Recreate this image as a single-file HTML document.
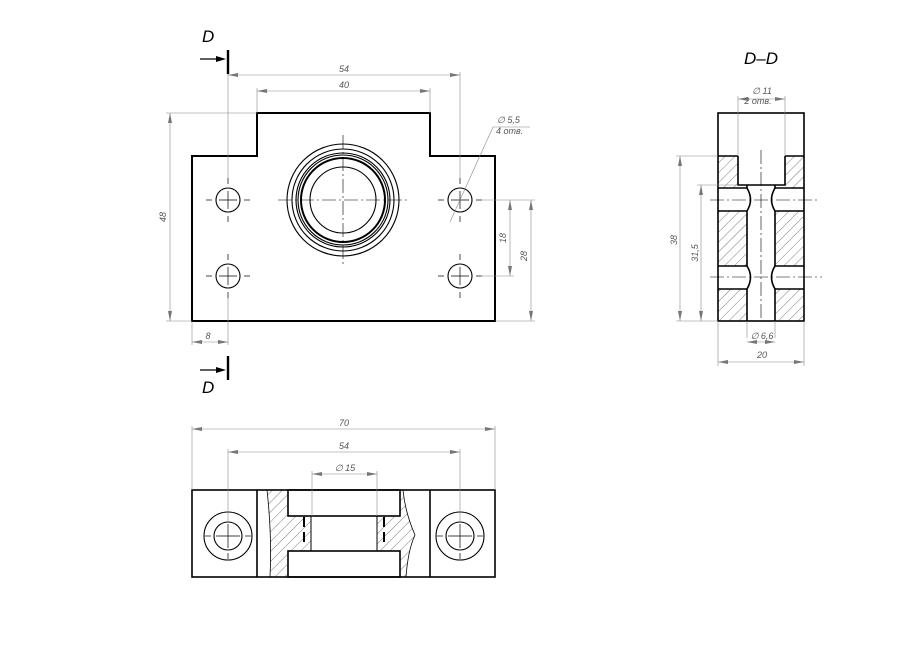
<!DOCTYPE html>
<html><head><meta charset="utf-8"><style>html,body{margin:0;padding:0;background:#fff}svg{display:block}</style></head>
<body>
<svg width="919" height="650" viewBox="0 0 919 650" xmlns="http://www.w3.org/2000/svg" font-family="Liberation Sans, sans-serif" font-style="italic">
<defs>
<pattern id="h" width="7" height="7" patternUnits="userSpaceOnUse" patternTransform="rotate(45)">
<line x1="0" y1="0" x2="0" y2="7" stroke="#444" stroke-width="0.7"/>
</pattern>
<marker id="a" viewBox="0 0 10 6" refX="10" refY="3" markerWidth="10" markerHeight="6" orient="auto-start-reverse" markerUnits="userSpaceOnUse">
<path d="M0,1 L10,3 L0,5z" fill="#777"/></marker>
</defs>

<!-- ========== FRONT VIEW ========== -->
<g fill="none" stroke="#000" stroke-width="2">
<path d="M192,156 H257 V113 H430 V156 H495 V321 H192 Z"/>
</g>
<g fill="none" stroke="#000" stroke-width="1.1">
<circle cx="343" cy="200" r="56"/>
<circle cx="343" cy="200" r="51"/>
<circle cx="343" cy="200" r="47"/>
<circle cx="343" cy="200" r="45"/>
<circle cx="343" cy="200" r="42" stroke-width="2"/>
<circle cx="343" cy="200" r="33"/>
<circle cx="228" cy="200" r="12"/>
<circle cx="228" cy="276" r="12"/>
<circle cx="460" cy="200" r="12"/>
<circle cx="460" cy="276" r="12"/>
</g>
<g stroke="#000" stroke-width="0.6" stroke-dasharray="14,3,2,3" fill="none">
<line x1="278" y1="200" x2="408" y2="200"/>
<line x1="343" y1="135" x2="343" y2="265"/>
</g>
<g stroke="#000" stroke-width="0.7">
<line x1="206" y1="200" x2="212" y2="200"/><line x1="219" y1="200" x2="237" y2="200"/><line x1="244" y1="200" x2="250" y2="200"/>
<line x1="206" y1="276" x2="212" y2="276"/><line x1="219" y1="276" x2="237" y2="276"/><line x1="244" y1="276" x2="250" y2="276"/>
<line x1="438" y1="200" x2="444" y2="200"/><line x1="451" y1="200" x2="469" y2="200"/><line x1="476" y1="200" x2="482" y2="200"/>
<line x1="438" y1="276" x2="444" y2="276"/><line x1="451" y1="276" x2="469" y2="276"/><line x1="476" y1="276" x2="482" y2="276"/>
<line x1="228" y1="178" x2="228" y2="184"/><line x1="228" y1="191" x2="228" y2="209"/><line x1="228" y1="216" x2="228" y2="222"/>
<line x1="228" y1="254" x2="228" y2="260"/><line x1="228" y1="267" x2="228" y2="285"/><line x1="228" y1="292" x2="228" y2="298"/>
<line x1="460" y1="178" x2="460" y2="184"/><line x1="460" y1="191" x2="460" y2="209"/><line x1="460" y1="216" x2="460" y2="222"/>
<line x1="460" y1="254" x2="460" y2="260"/><line x1="460" y1="267" x2="460" y2="285"/><line x1="460" y1="292" x2="460" y2="298"/>
</g>
<!-- dims front -->
<g stroke="#888" stroke-width="0.6" fill="none">
<line x1="228" y1="72" x2="228" y2="178"/><line x1="460" y1="72" x2="460" y2="178"/>
<line x1="228" y1="298" x2="228" y2="345"/>
<line x1="192" y1="321" x2="192" y2="345"/>
<line x1="257" y1="88" x2="257" y2="113"/><line x1="430" y1="88" x2="430" y2="113"/>
<line x1="166" y1="113" x2="257" y2="113"/><line x1="166" y1="321" x2="192" y2="321"/>
<line x1="482" y1="200" x2="535" y2="200"/><line x1="482" y1="276" x2="514" y2="276"/><line x1="495" y1="321" x2="535" y2="321"/>
<line x1="228" y1="75" x2="460" y2="75" marker-start="url(#a)" marker-end="url(#a)"/>
<line x1="257" y1="91" x2="430" y2="91" marker-start="url(#a)" marker-end="url(#a)"/>
<line x1="170" y1="113" x2="170" y2="321" marker-start="url(#a)" marker-end="url(#a)"/>
<line x1="510" y1="200" x2="510" y2="276" marker-start="url(#a)" marker-end="url(#a)"/>
<line x1="531" y1="200" x2="531" y2="321" marker-start="url(#a)" marker-end="url(#a)"/>
<line x1="192" y1="342" x2="228" y2="342" marker-start="url(#a)" marker-end="url(#a)"/>
<polyline points="450,222 493,127 530,127"/>
</g>
<g font-size="9" fill="#555">
<text x="344" y="72" text-anchor="middle">54</text>
<text x="344" y="88" text-anchor="middle">40</text>
<text x="208" y="339" text-anchor="middle">8</text>
<text transform="translate(166,217) rotate(-90)" text-anchor="middle">48</text>
<text transform="translate(506,238) rotate(-90)" text-anchor="middle">18</text>
<text transform="translate(527,256) rotate(-90)" text-anchor="middle">28</text>
<text x="497" y="123">∅ 5,5</text>
<text x="496" y="134">4 отв.</text>
</g>
<!-- section markers -->
<g stroke="#000" fill="none">
<line x1="228" y1="50" x2="228" y2="74" stroke-width="2.4"/>
<line x1="228" y1="356" x2="228" y2="380" stroke-width="2.4"/>
<line x1="200" y1="59" x2="222" y2="59" stroke-width="1.2"/>
<line x1="200" y1="370" x2="222" y2="370" stroke-width="1.2"/>
</g>
<path d="M226,59 L216,56 L216,62z M226,370 L216,367 L216,373z" fill="#000"/>
<g font-size="17" fill="#000">
<text x="202" y="42">D</text>
<text x="202" y="393">D</text>
<text x="744" y="64">D–D</text>
</g>

<!-- ========== SECTION D-D ========== -->
<g fill="url(#h)" stroke="none">
<rect x="718" y="156" width="20" height="32"/>
<rect x="785" y="156" width="19" height="32"/>
<rect x="718" y="211" width="29" height="55"/>
<rect x="775" y="211" width="29" height="55"/>
<rect x="718" y="289" width="29" height="32"/>
<rect x="775" y="289" width="29" height="32"/>
</g>
<g fill="none" stroke="#000" stroke-width="1.6">
<rect x="718" y="113" width="86" height="208"/>
<line x1="718" y1="156" x2="738" y2="156"/><line x1="785" y1="156" x2="804" y2="156"/>
<path d="M738,156 V185 H785 V156"/>
<path d="M718,188 H747 M775,188 H804 M718,211 H747 M775,211 H804"/>
<path d="M718,266 H747 M775,266 H804 M718,289 H747 M775,289 H804"/>
<path d="M747,185 V188 Q754,200 747,211 V266 Q754,277 747,289 V321"/>
<path d="M775,185 V188 Q768,200 775,211 V266 Q768,277 775,289 V321"/>
</g>
<g stroke="#000" stroke-width="0.6" stroke-dasharray="14,3,2,3">
<line x1="761" y1="150" x2="761" y2="321"/>
<line x1="710" y1="200" x2="820" y2="200"/>
<line x1="710" y1="277" x2="822" y2="277"/>
</g>
<g stroke="#888" stroke-width="0.6" fill="none">
<line x1="738" y1="96" x2="738" y2="156"/><line x1="785" y1="96" x2="785" y2="156"/>
<line x1="738" y1="99" x2="785" y2="99" marker-start="url(#a)" marker-end="url(#a)"/>
<line x1="676" y1="156" x2="718" y2="156"/><line x1="697" y1="185" x2="738" y2="185"/>
<line x1="676" y1="321" x2="718" y2="321"/>
<line x1="680" y1="156" x2="680" y2="321" marker-start="url(#a)" marker-end="url(#a)"/>
<line x1="701" y1="185" x2="701" y2="321" marker-start="url(#a)" marker-end="url(#a)"/>
<line x1="747" y1="321" x2="747" y2="338"/><line x1="775" y1="321" x2="775" y2="338"/>
<line x1="747" y1="342" x2="775" y2="342" marker-start="url(#a)" marker-end="url(#a)"/>
<line x1="718" y1="321" x2="718" y2="366"/><line x1="804" y1="321" x2="804" y2="366"/>
<line x1="718" y1="362" x2="804" y2="362" marker-start="url(#a)" marker-end="url(#a)"/>
</g>
<g font-size="9" fill="#555">
<text x="762" y="94" text-anchor="middle">∅ 11</text>
<text x="758" y="104" text-anchor="middle">2 отв.</text>
<text x="762" y="339" text-anchor="middle">∅ 6,6</text>
<text x="762" y="358" text-anchor="middle">20</text>
<text transform="translate(677,240) rotate(-90)" text-anchor="middle">38</text>
<text transform="translate(698,253) rotate(-90)" text-anchor="middle">31,5</text>
</g>

<!-- ========== BOTTOM VIEW ========== -->
<g fill="url(#h)" stroke="none">
<path d="M267,490 Q272,535 270,577 H287 V551 H311 V516 H287 V490 Z"/>
<path d="M403,490 Q405,512 415,535 Q408,550 406,577 H400 V551 H377 V516 H400 V490 Z"/>
</g>
<g fill="none" stroke="#000" stroke-width="0.8">
<path d="M267,490 Q272,535 270,577"/>
<path d="M403,490 Q405,512 415,535 Q408,550 406,577"/>
</g>
<g fill="none" stroke="#000" stroke-width="1.6">
<rect x="192" y="490" width="303" height="87"/>
<line x1="257" y1="490" x2="257" y2="577"/><line x1="430" y1="490" x2="430" y2="577"/>
<rect x="288" y="490" width="112" height="26"/>
<rect x="288" y="551" width="112" height="26"/>
<line x1="311" y1="516" x2="311" y2="551" stroke-width="1"/>
<line x1="377" y1="516" x2="377" y2="551" stroke-width="1"/>
<path d="M304,517 V527 M304,532 V542 M384,517 V527 M384,532 V542" stroke-width="2"/>
<circle cx="228" cy="536" r="24" stroke-width="1.1"/>
<circle cx="228" cy="536" r="14" stroke-width="1.1"/>
<circle cx="460" cy="536" r="24" stroke-width="1.1"/>
<circle cx="460" cy="536" r="14" stroke-width="1.1"/>
</g>
<g stroke="#000" stroke-width="0.7">
<line x1="216" y1="536" x2="240" y2="536"/><line x1="228" y1="524" x2="228" y2="548"/>
<line x1="448" y1="536" x2="472" y2="536"/><line x1="460" y1="524" x2="460" y2="548"/>
<line x1="205" y1="536" x2="211" y2="536"/><line x1="245" y1="536" x2="251" y2="536"/>
<line x1="437" y1="536" x2="443" y2="536"/><line x1="477" y1="536" x2="483" y2="536"/>
<line x1="228" y1="553" x2="228" y2="559"/><line x1="460" y1="553" x2="460" y2="559"/>
</g>
<g stroke="#888" stroke-width="0.6" fill="none">
<line x1="192" y1="426" x2="192" y2="490"/><line x1="495" y1="426" x2="495" y2="490"/>
<line x1="228" y1="449" x2="228" y2="522"/><line x1="460" y1="449" x2="460" y2="522"/>
<line x1="312" y1="471" x2="312" y2="516"/><line x1="377" y1="471" x2="377" y2="516"/>
<line x1="192" y1="429" x2="495" y2="429" marker-start="url(#a)" marker-end="url(#a)"/>
<line x1="228" y1="452" x2="460" y2="452" marker-start="url(#a)" marker-end="url(#a)"/>
<line x1="312" y1="474" x2="377" y2="474" marker-start="url(#a)" marker-end="url(#a)"/>
</g>
<g font-size="9" fill="#555">
<text x="344" y="426" text-anchor="middle">70</text>
<text x="344" y="449" text-anchor="middle">54</text>
<text x="345" y="471" text-anchor="middle">∅ 15</text>
</g>
</svg>
</body></html>
